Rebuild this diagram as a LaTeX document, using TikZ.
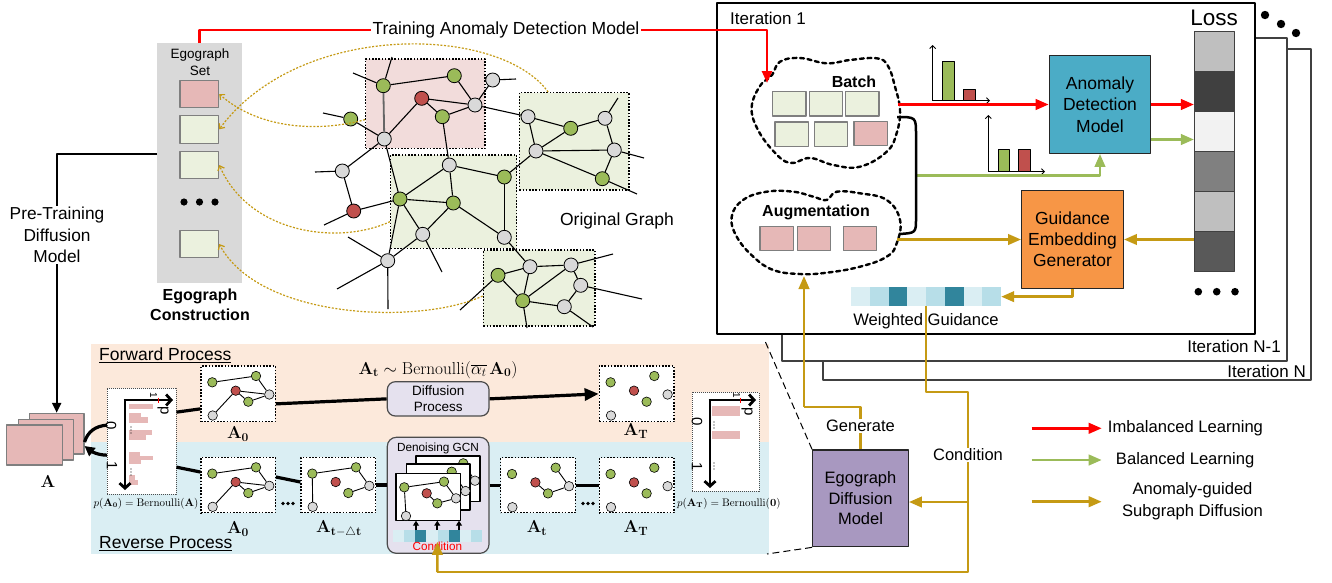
\documentclass[tikz,border=0pt]{standalone}
\usepackage[no-math]{fontspec}
\setmainfont{Liberation Sans}
\usetikzlibrary{arrows.meta,calc}

\definecolor{cRed}{HTML}{FF0000}
\definecolor{cGreen}{HTML}{9BBB59}
\definecolor{cGold}{HTML}{C59A14}
\definecolor{nGreen}{HTML}{9BBB59}
\definecolor{nRed}{HTML}{C0504D}
\definecolor{nGray}{HTML}{D9D9D9}
\definecolor{boxPink}{HTML}{E6B8B7}
\definecolor{boxGreen}{HTML}{EBF1DE}
\definecolor{subPink}{HTML}{F2DCDB}
\definecolor{setGray}{HTML}{D9D9D9}
\definecolor{admBlue}{HTML}{4BACC6}
\definecolor{gegOrange}{HTML}{F79646}
\definecolor{edmPurple}{HTML}{A898C0}
\definecolor{fwdBand}{HTML}{FCE9DB}
\definecolor{revBand}{HTML}{DAEEF3}
\definecolor{wgA}{HTML}{DAEEF3}
\definecolor{wgB}{HTML}{B7DEE8}
\definecolor{wgC}{HTML}{31859C}
\definecolor{procFill}{HTML}{E5E1EE}
\definecolor{edgeGray}{HTML}{7F7F7F}
\definecolor{lossA}{HTML}{BFBFBF}
\definecolor{lossB}{HTML}{404040}
\definecolor{lossC}{HTML}{F2F2F2}
\definecolor{lossD}{HTML}{808080}
\definecolor{lossF}{HTML}{595959}

\newcommand{\fs}[2]{\fontsize{#1}{#2}\selectfont}

% six-node toy graph used in the small adjacency panels (prefix #1)
\newcommand{\toynodes}[1]{%
  \node[sn,fill=nGreen] (#1g1) at (11.3,16.3) {};
  \node[sn,fill=nGreen] (#1g2) at (55,10) {};
  \node[sn,fill=nRed]   (#1r)  at (34.7,24.7) {};
  \node[sn,fill=nGreen] (#1g3) at (47.3,35.7) {};
  \node[sn,fill=nGray]  (#1w1) at (68.3,28.5) {};
  \node[sn,fill=nGray]  (#1w2) at (11.7,49.5) {};
}

\begin{document}
\begin{tikzpicture}[x=1pt,y=-1pt,line join=round,
  txt/.style={font=\fs{17}{21}, align=center, inner sep=1pt},
  arrtip/.style={-{Triangle[length=13pt,width=10.5pt]}},
  redarr/.style={draw=cRed, line width=2.5pt, arrtip},
  grnarr/.style={draw=cGreen, line width=2.5pt, arrtip},
  goldarr/.style={draw=cGold, line width=2.5pt, arrtip},
  goldln/.style={draw=cGold, line width=2.5pt},
  gn/.style={circle, draw=black, line width=0.8pt, minimum size=14pt, inner sep=0pt},
  sn/.style={circle, draw=black, line width=0.6pt, minimum size=9.5pt, inner sep=0pt},
  gedge/.style={draw=black, line width=1.1pt},
  sedge/.style={draw=black, line width=0.9pt},
  subbox/.style={draw=black, line width=1.3pt, dash pattern=on 1.6pt off 1.6pt, inner sep=0pt},
  egobox/.style={draw=edgeGray, line width=1.1pt, inner sep=0pt},
  histbox/.style={draw=black!70, line width=0.9pt, dash pattern=on 1pt off 1pt, fill=white, inner sep=0pt},
  pointer/.style={draw=cGold, line width=1.2pt, dash pattern=on 2pt off 1.6pt, -{Straight Barb[length=4pt,width=7pt]}},
  thickln/.style={draw=black, line width=3.2pt},
  axisarr/.style={draw=black, line width=2.8pt, -{Straight Barb[length=5pt,width=11pt]}},
  thinax/.style={draw=black, line width=0.9pt, -{Straight Barb[length=3pt,width=6pt]}},
  dashcloud/.style={draw=black, line width=2.4pt, dash pattern=on 4pt off 3.6pt, line cap=round},
  wframe/.style={draw=black, line width=1.5pt, fill=white, inner sep=0pt},
]
\useasboundingbox (0,0) rectangle (1332,582);

% helper levels for orthogonal joins
\coordinate (y154) at (0,154);
\coordinate (y442) at (0,442);
\coordinate (y446) at (0,446);
\coordinate (y502) at (0,502);

% ================= iteration frames =================
\draw[draw=black!75, line width=1.4pt, fill=white] (823,49) rectangle (1311,380);
\draw[draw=black!75, line width=1.4pt, fill=white] (782,38) rectangle (1287,361);
\draw[draw=black, line width=2.2pt, fill=white] (717,3) rectangle (1255,334);
\node[txt, anchor=east] at (1307,371) {Iteration N};
\node[txt, anchor=east] at (1282,346) {Iteration N-1};
\node[txt, anchor=west] at (729,18) {Iteration 1};
\foreach \x/\y in {1265/15, 1281/24, 1296/33} \fill (\x,\y) circle (4.2pt);

% ================= egograph set =================
\node[fill=setGray, minimum width=84.4pt, minimum height=239.4pt, inner sep=0pt] (egoset) at (199.5,163) {};
\node[font=\fs{13.5}{17}, align=center] at (200,62.5) {Egograph\\Set};
\node[egobox, fill=boxPink,  minimum width=38.7pt, minimum height=27.7pt] (ego1) at (199.3,94) {};
\node[egobox, fill=boxGreen, minimum width=38.7pt, minimum height=27.7pt] (ego2) at (199.3,129.3) {};
\node[egobox, fill=boxGreen, minimum width=38.7pt, minimum height=27.7pt] (ego3) at (199.3,165) {};
\node[egobox, fill=boxGreen, minimum width=38.7pt, minimum height=27.7pt] (ego5) at (199.3,244) {};
\foreach \x in {184,199.5,215} \fill (\x,202) circle (3.6pt);
\node[font=\bfseries\fs{16}{20}, align=center] at (200,305) {Egograph\\Construction};

% ================= original graph =================
\node[subbox, fill=subPink,  minimum width=119.3pt, minimum height=89.3pt] (sgP) at (425.35,103.65) {};
\node[subbox, fill=boxGreen, minimum width=109.7pt, minimum height=97.3pt] (sgA) at (574.15,141.35) {};
\node[subbox, fill=boxGreen, minimum width=126pt,   minimum height=93.3pt] (sgB) at (453.7,201.65) {};
\node[subbox, fill=boxGreen, minimum width=111.7pt, minimum height=76pt]   (sgC) at (539.15,288) {};

\foreach \n/\x/\y/\c in {
  a1/383.3/85.7/nGreen, a2/454.3/75.7/nGreen, a3/492.7/80/nGray, a4/421.7/98.3/nRed,
  a5/475/105/nGray, a6/442.3/116.7/nGreen, a7/350.7/119/nGreen, a8/384.3/139/nGray,
  b1/528/116.7/nGray, b2/570.7/128.3/nGreen, b3/605/118.3/nGray, b4/536/151/nGray,
  b5/614.3/150/nGray, b6/602.3/178.7/nGreen,
  c1/449.3/165/nGray, c2/504.3/177/nGreen, c3/342.3/171/nGray, c4/400/199/nGreen,
  c5/453.3/203/nGreen, c6/353.7/211/nRed, c7/422.7/234.3/nGray, c8/504.3/237.3/nGray,
  c9/387.7/260.7/nGray,
  d1/530/266.7/nGray, d2/571/265/nGray, d3/498/275.3/nGreen, d4/580.7/285.3/nGray,
  d5/522.7/300.7/nGreen, d6/564.3/306.7/nGray}
  \node[gn, fill=\c] (\n) at (\x,\y) {};

\foreach \a/\b in {a1/a2, a2/a5, a3/a5, a4/a5, a4/a6, a6/a5, a4/a8, a8/a7,
  a5/b1, b1/b2, b2/b3, b3/b5, b2/b4, b1/b4, b4/b5, b4/b6, b5/b6,
  a6/c1, c1/c2, c1/c4, c1/c5, c2/b4, c2/c8, c4/c5, c5/c8, c5/c7, c4/c7, c4/a8,
  c4/c6, a8/c3, c3/c6, c7/c9, c9/c4,
  c8/d1, d1/d2, d1/d3, d1/d5, d3/d5, d2/d5, d2/d4, d4/d6, d5/d6}
  \draw[gedge] (\a) -- (\b);
\draw[draw=black!60, line width=1.8pt] (a1) -- (a8);
% loose edges leaving the drawn part of the graph
\foreach \a/\x/\y in {a7/323/113, a1/392/57, a1/353/73, a3/516/79, b3/618/98,
  b5/644/158, b6/637/194, c3/315/172, c6/324/225, c7/442/272,
  c9/348/237, c9/337/289, c9/388/309, d3/460/310, d2/613/254,
  d4/642/299, d5/527/328, d6/593/327}
  \draw[gedge] (\a) -- (\x,\y);
\node[txt, font=\fs{17.5}{21}] at (617,221) {Original Graph};

% extraction pointers from subgraphs into the egograph set
\draw[pointer] ([yshift=-16pt]sgP.west) .. controls (320,132) and (260,130) .. (ego1.east);
\draw[pointer] ([xshift=-26pt]sgA.north) .. controls (500,25) and (300,20) .. (ego2.east);
\draw[pointer] ([yshift=-20pt]sgB.west) .. controls (340,245) and (250,235) .. (ego3.east);
\draw[pointer] ([yshift=-8pt]sgC.west) .. controls (420,325) and (260,320) .. (ego5.east);

% ================= training panel =================
% batch and augmentation clouds
\draw[dashcloud] plot[smooth cycle, tension=0.7] coordinates {
  (780,61.7) (800,58) (826.7,63.3) (850,60) (876.7,58.3) (888,66) (895,86.7) (900,110)
  (896.7,133) (886.7,151.7) (860,166.7) (833.3,165) (810,158) (790,163) (773.3,151)
  (757,128) (751.7,106.7) (760,86) (772,75)};
\node[font=\bfseries\fs{16}{18}] at (854,82) {Batch};
\foreach \n/\x/\y/\c in {bt1/789.35/103.85/boxGreen, bt2/826/103.85/boxGreen, bt3/862.35/103.85/boxGreen,
  bt4/791.65/134.15/boxGreen, bt5/831/134.15/boxGreen, bt6/870.65/133.5/boxPink}
  \node[egobox, fill=\c, minimum width=33.3pt, minimum height=24.3pt] (\n) at (\x,\y) {};

\draw[dashcloud] plot[smooth cycle, tension=0.7] coordinates {
  (731.7,216.7) (743,200) (766.7,191.7) (793.3,191.7) (813.3,196.7) (826.7,200) (836.7,191.7)
  (860,193.3) (886.7,200) (900,220) (896.7,243.3) (886.7,256.7) (860,266.7) (826.7,272.7)
  (800,274) (773.3,270) (753.3,256.7) (736.7,236.7)};
\node[font=\bfseries\fs{16}{18}] at (816,212) {Augmentation};
\foreach \n/\x in {ag1/776.65, ag2/814, ag3/860}
  \node[egobox, fill=boxPink, minimum width=33.3pt, minimum height=24pt] (\n) at (\x,238.7) {};

\coordinate (batchIn) at (767,83);
\coordinate (batchR) at (898,104.5);
\coordinate (batchBR) at (897,117);
\coordinate (augBR) at (899,234);
\coordinate (augR) at (897,239.5);
\coordinate (augB) at (804,276);
\coordinate (balStart) at (916,175.7);

% class histograms
\draw[thinax] (932.7,100.7) -- (932.7,45);
\draw[thinax] (932.7,100.7) -- (990,100.7);
\draw[draw=black, line width=0.8pt, fill=nGreen] (942.7,61.7) rectangle (954,100.7);
\draw[draw=black, line width=0.8pt, fill=nRed] (963.3,89.3) rectangle (975,100.7);
\draw[thinax] (988.3,171.7) -- (988.3,115);
\draw[thinax] (988.3,171.7) -- (1045,171.7);
\draw[draw=black, line width=0.8pt, fill=nGreen] (998.3,149.3) rectangle (1009.3,171.7);
\draw[draw=black, line width=0.8pt, fill=nRed] (1018.3,149.3) rectangle (1030,171.7);

% model blocks
\node[draw=black!85, line width=1.3pt, fill=admBlue, minimum width=101.4pt, minimum height=97.6pt,
  font=\fs{17.5}{21.3}, align=center, inner sep=0pt] (ADM) at (1100,104.5) {Anomaly\\Detection\\Model};
\node[draw=black!85, line width=1.3pt, fill=gegOrange, minimum width=101.6pt, minimum height=97.6pt,
  font=\fs{17.5}{21}, align=center, inner sep=0pt] (GEG) at (1072.5,239.5) {Guidance\\Embedding\\Generator};

% loss column
\foreach \k/\c in {1/lossA, 2/lossB, 3/lossC, 4/lossD, 5/lossA, 6/lossF}
  \node[draw=black!75, line width=0.8pt, fill=\c, minimum width=40pt, minimum height=40pt, inner sep=0pt]
    (loss\k) at (1214.3,{11.7+40*\k}) {};
\node[font=\fs{22.5}{24}] at (1214,18) {Loss};
\foreach \x in {1198.3,1216.7,1235} \fill (\x,291.7) circle (3.8pt);

% weighted guidance
\node[minimum width=150pt, minimum height=18.7pt, inner sep=0pt] (wg) at (926,296.65) {};
\foreach \k/\c in {0/wgA, 1/wgB, 2/wgC, 3/wgA, 4/wgB, 5/wgC, 6/wgA, 7/wgB}
  \fill[\c] ({851+18.75*\k},287.3) rectangle ({851+18.75*(\k+1)},306);
\node[txt, font=\fs{16.6}{20}] at (926,321) {Weighted Guidance};

% diffusion model block
\node[draw=black!85, line width=1.3pt, fill=edmPurple, minimum width=95.6pt, minimum height=96.7pt,
  font=\fs{16.5}{20.3}, align=center, inner sep=0pt] (EDM) at (860.5,498.35) {Egograph\\Diffusion\\Model};

% ================= diffusion panel =================
\fill[fwdBand] (91,344) rectangle (769,442.3);
\fill[revBand] (91,442.3) rectangle (769,554);
\node[font=\fs{17.5}{20}, anchor=west, inner sep=0pt] at (99,355) {\underline{Forward Process}};
\node[font=\fs{17.5}{20}, anchor=west, inner sep=0pt] at (99,544) {\underline{Reverse Process}};

% adjacency stack
\node[egobox, fill=boxPink, minimum width=54.7pt, minimum height=40.7pt] (Aback) at (56.65,433.65) {};
\node[egobox, fill=boxPink, minimum width=55pt, minimum height=40.7pt] (Amid) at (45.8,439.65) {};
\node[egobox, fill=boxPink, minimum width=55.6pt, minimum height=40pt] (Afront) at (34.5,445) {};
\node[font=\fs{19}{20}] at (48,482) {$\mathbf{A}$};

% Bernoulli histograms
\node[histbox, minimum width=68.7pt, minimum height=105.7pt] (hL) at (141.65,441.15) {};
\foreach \xa/\ya/\yb in {152.7/404/409.3, 140.7/413.3/417.3, 148.3/417.3/422.7, 151.7/430/435,
   146/435/440, 140/451.7/455.5, 153/455.5/460, 141/460/464, 135/475/480, 137.5/480/485}
  \fill[boxPink] (129.3,\ya) rectangle (\xa,\yb);
\draw[axisarr] (125,399) -- (125,490);
\draw[axisarr] (123.6,400) -- (173,400);
\node[rotate=-90, font=\fs{15}{15}] at (111,426) {0};
\node[rotate=-90, font=\fs{15}{15}] at (112,466) {1};
\node[rotate=-90, font=\fs{15}{15}] at (163,411) {p};
\node[rotate=-90, font=\fs{10}{10}] at (153.5,395) {1};
\draw[cRed, line width=0.9pt] (158,397.5) -- (158,403);
\foreach \y in {427,430,433,469,472,475} \fill (131,\y) circle (0.6pt);
\node[font=\fs{10.5}{12}, inner sep=0pt] at (146,503.5) {$p(\mathbf{A_0}) = \mathrm{Bernoulli}(\mathbf{A})$};

\node[histbox, minimum width=66.7pt, minimum height=98.7pt] (hR) at (725.65,441.65) {};
\fill[boxPink] (711.7,406) rectangle (740,416);
\fill[boxPink] (711.7,430.7) rectangle (740,439.3);
\draw[axisarr] (710,399) -- (710,488);
\draw[axisarr] (708.6,400) -- (756,400);
\node[rotate=-90, font=\fs{15}{15}] at (697,422) {0};
\node[rotate=-90, font=\fs{15}{15}] at (697,467) {1};
\node[rotate=-90, font=\fs{15}{15}] at (747,412) {p};
\node[rotate=-90, font=\fs{10}{10}] at (736.5,395) {1};
\draw[cRed, line width=0.9pt] (740.5,397.5) -- (740.5,403);
\foreach \y in {422,425,428,463,466,469} \fill (714,\y) circle (0.6pt);
\node[font=\fs{10.5}{12}, inner sep=0pt, anchor=west] at (677,503.5) {$p(\mathbf{A_T}) = \mathrm{Bernoulli}(\mathbf{0})$};

% graph panels
\node[subbox, fill=white, minimum width=74.3pt, minimum height=55.7pt] (A0f) at (238.15,393.85) {};
\node[subbox, fill=white, minimum width=74.7pt, minimum height=55.7pt] (ATf) at (636.65,393.85) {};
\node[subbox, fill=white, minimum width=74.3pt, minimum height=55.4pt] (A0r) at (238.15,485) {};
\node[subbox, fill=white, minimum width=74.7pt, minimum height=55.4pt] (Atd) at (338.35,485) {};
\node[subbox, fill=white, minimum width=74.6pt, minimum height=55pt] (At) at (538,485.2) {};
\node[subbox, fill=white, minimum width=74.7pt, minimum height=55pt] (ATr) at (636.65,485.2) {};

\begin{scope}[shift={(201,366)}]\toynodes{f0}\end{scope}
\foreach \a/\b in {g1/g2, g2/w1, r/w1, r/g3, g3/w1, r/w2} \draw[sedge] (f0\a) -- (f0\b);
\begin{scope}[shift={(201,457.3)}]\toynodes{r0}\end{scope}
\foreach \a/\b in {g1/g2, g2/w1, r/w1, r/g3, g3/w1, r/w2} \draw[sedge] (r0\a) -- (r0\b);
\begin{scope}[shift={(301,457.3)}]\toynodes{rd}\end{scope}
\foreach \a/\b in {g1/g2, g2/w1, g3/w1, g1/w2} \draw[sedge] (rd\a) -- (rd\b);
\begin{scope}[shift={(500.7,457.7)}]\toynodes{rt}\end{scope}
\foreach \a/\b in {r/g3, g3/w1, g2/w1} \draw[sedge] (rt\a) -- (rt\b);
\begin{scope}[shift={(599.3,457.7)}]\toynodes{rT}\end{scope}
\begin{scope}[shift={(599.3,366)}]\toynodes{fT}\end{scope}

\node[font=\fs{18}{20}] at (238,434) {$\mathbf{A_0}$};
\node[font=\fs{18}{20}] at (636,431) {$\mathbf{A_T}$};
\node[font=\fs{18}{20}] at (238,529) {$\mathbf{A_0}$};
\node[font=\fs{18}{20}] at (339,529) {$\mathbf{A}_{\mathbf{t}-\triangle\mathbf{t}}$};
\node[font=\fs{18}{20}] at (537,528) {$\mathbf{A_t}$};
\node[font=\fs{18}{20}] at (636,528) {$\mathbf{A_T}$};
\node[font=\fs{17.5}{20}] at (438,370) {$\mathbf{A_t}\sim\mathrm{Bernoulli}(\overline{\alpha_t}\,\mathbf{A_0})$};

% process blocks
\node[draw=black!70, line width=1.2pt, fill=procFill, rounded corners=8pt, minimum width=101.7pt,
  minimum height=34.3pt, font=\fs{13.5}{16}, align=center, inner sep=0pt] (DP) at (438.15,398.85) {Diffusion\\Process};
\node[draw=black!70, line width=1.2pt, fill=procFill, rounded corners=9pt, minimum width=101.7pt,
  minimum height=116pt, inner sep=0pt] (GCN) at (438.15,495.3) {};
\node[font=\fs{11.8}{13}] at (438,448) {Denoising GCN};
\node[wframe, minimum width=64pt, minimum height=45.7pt] (fr3) at (448,478.85) {};
\node[sn,fill=nGreen] (k1) at (463.3,463.3) {};
\node[sn,fill=nGray] (k2) at (475,480.7) {};
\draw[sedge] (k1) -- (k2);
\node[wframe, minimum width=63.3pt, minimum height=46pt] (fr2) at (438.35,487) {};
\node[sn,fill=nGreen] (m1) at (451.7,471.7) {};
\node[sn,fill=nGray] (m2) at (465.5,491) {};
\draw[sedge] (m1) -- (m2);
\node[wframe, minimum width=64.7pt, minimum height=47.4pt] (fr1) at (428.35,497) {};
\node[sn,fill=nGreen] (q1) at (404.3,487.3) {};
\node[sn,fill=nGreen] (q2) at (444,481.7) {};
\node[sn,fill=nRed]   (q3) at (426.7,493.3) {};
\node[sn,fill=nGreen] (q4) at (437.3,503.3) {};
\node[sn,fill=nGray]  (q5) at (456,498.3) {};
\node[sn,fill=nGray]  (q6) at (406,516) {};
\foreach \a/\b in {q1/q2, q2/q5, q5/q4, q4/q3, q1/q6} \draw[sedge] (\a) -- (\b);
\node[minimum width=88.4pt, minimum height=11.7pt, inner sep=0pt] (cond) at (437.5,535.85) {};
\foreach \k/\c in {0/wgA, 1/wgB, 2/wgC, 3/wgA, 4/wgB, 5/wgC, 6/wgA, 7/wgB}
  \fill[\c] ({393.3+11.05*\k},530) rectangle ({393.3+11.05*(\k+1)},541.7);
\foreach \i/\x in {1/416, 2/437.3, 3/459} {
  \coordinate (cu\i) at (\x,530);
  \coordinate (cv\i) at (\x,520.7);
  \draw[draw=black, line width=2pt, -{Triangle[length=5pt,width=6pt]}] (cu\i) -- (cv\i);
}
\node[font=\fs{11.7}{13}, text=cRed, inner sep=0pt] at (437.3,546) {Condition};

% panel connectors
\draw[thickln] ([yshift=29pt]hL.east) -- ([yshift=-15pt]A0f.west);
\draw[thickln] ([yshift=-10pt]A0f.east) -- (DP.west);
\draw[thickln, -{Triangle[length=14pt,width=12pt]}] (DP.east) -- (ATf.west);
\draw[thickln] ([yshift=-26pt]hL.east) -- ([yshift=13pt]A0r.west);
\draw[thickln] ([yshift=8pt]A0r.east) -- ([yshift=3pt]Atd.west);
\draw[thickln] (Atd.east) -- (GCN.west |- Atd.east);
\draw[thickln] (GCN.east |- At.west) -- (At.west);
\draw[thickln] (At.east) -- (ATr.west);
\foreach \cx in {288,588} \foreach \d in {-5,0,5} \fill ({\cx+\d},503.5) circle (1.9pt);
\draw[thickln] (Aback.east |- y442) .. controls (88,431) and (96,426) .. ([yshift=16pt]hL.west);
\draw[thickln, -{Triangle[length=10pt,width=10pt]}] ([yshift=-14pt]hL.west) .. controls (97,455) and (91,451) .. (Aback.east |- y446);

% zoom guides
\draw[black, line width=1pt, dash pattern=on 7pt off 4pt] (EDM.north west) -- (765,341);
\draw[black, line width=1pt, dash pattern=on 7pt off 4pt] (EDM.south west) -- (767,554);

% ================= connectors =================
\draw[line width=2.2pt, -{Triangle[length=10pt,width=9pt]}] (egoset.west |- y154) -| (Aback.north);
\node[txt, fill=white, font=\fs{17.3}{21.5}] at (57,235) {Pre-Training\\Diffusion\\Model};

\draw[draw=cRed, line width=2.5pt, -{Triangle[length=12pt,width=10pt]}] (egoset.north) -- (199.5,30) -- (767,30) -- (batchIn);
\node[txt, fill=white, font=\fs{17.5}{20}, inner sep=1.5pt] at (506,30) {Training Anomaly Detection Model};

\draw[redarr] (batchR) -- (ADM.west);
\draw[redarr] (ADM.east) -- (ADM.east -| loss2.west);
\draw[grnarr] ([yshift=-35pt]ADM.east) -- ([yshift=-35pt]ADM.east -| loss3.west);
\draw[grnarr] (balStart) -| (ADM.south);
\draw[line width=2.5pt] (batchBR) .. controls (916,117) .. (916,135) -- (916,218) .. controls (916,233) .. (augBR);
\draw[goldarr] (augR) -- (GEG.west);
\draw[goldarr] (loss6.west |- GEG.east) -- (GEG.east);
\draw[goldarr] (GEG.south) |- (wg.east);

\draw[goldln] (wg.south) -- (926,392) -- (968,392) -- (968,572) -- (437.3,572);
\draw[goldarr] (437.3,572) -- (cond.south);
\draw[goldarr] (968,502) -- (EDM.east |- y502);
\node[txt, fill=white, font=\fs{16.5}{20}] at (968,455) {Condition};

\draw[goldln] (EDM.north) -- (860.5,407) -- (804,407);
\draw[goldarr] (804,407) -- (augB);
\node[txt, fill=white, font=\fs{16.5}{20}] at (860.5,426) {Generate};

% ================= legend =================
\coordinate (lgR) at (1031.7,428.3);
\coordinate (lgG) at (1031.7,460);
\coordinate (lgY) at (1031.7,501.7);
\draw[redarr] (lgR) -- ++(70,0) node[right=5pt, font=\fs{16.6}{20}, inner sep=0pt] {Imbalanced Learning};
\draw[grnarr] (lgG) -- ++(70,0) node[right=13pt, font=\fs{16.6}{20}, inner sep=0pt] {Balanced Learning};
\draw[goldarr] (lgY) -- ++(70,0);
\node[font=\fs{16.6}{22}, align=center] at (1192.5,501) {Anomaly-guided\\Subgraph Diffusion};
\end{tikzpicture}
\end{document}
